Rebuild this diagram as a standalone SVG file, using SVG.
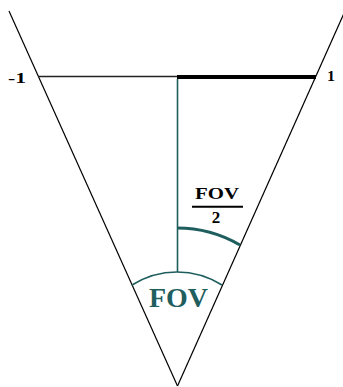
<svg xmlns="http://www.w3.org/2000/svg" width="343" height="387" viewBox="0 0 343 387">
<style>
.edge{stroke:#000;stroke-width:1.2;fill:none}
.teal{stroke:#1f5e5e;fill:none}
.lbl{font-family:"Liberation Serif","Times New Roman",serif;font-weight:bold;fill:#000}
.tlbl{font-family:"Liberation Serif","Times New Roman",serif;font-weight:bold;fill:#1f5e5e}
</style>
<rect width="343" height="387" fill="#fff"/>
<g id="connectors">
<line class="edge" x1="9" y1="11" x2="177.5" y2="386"/>
<line class="edge" x1="345" y1="11" x2="177.5" y2="386"/>
<line x1="38" y1="76.5" x2="178" y2="76.5" stroke="#222" stroke-width="1.3"/>
<line x1="177" y1="77" x2="316" y2="77" stroke="#000" stroke-width="4"/>
<line class="teal" x1="177.5" y1="79" x2="177.5" y2="272" stroke-width="1.6"/>
<path class="teal" d="M132,285 A84,84 0 0 1 222,285" stroke-width="1.5"/>
<path class="teal" d="M177,228 A125,125 0 0 1 240,245" stroke-width="3"/>
<line x1="192" y1="206.7" x2="243" y2="206.7" stroke="#000" stroke-width="2"/>
</g>
<g id="label-minus1"><text class="lbl" x="8" y="83" font-size="15" textLength="18" lengthAdjust="spacingAndGlyphs">-1</text></g>
<g id="label-1"><text class="lbl" x="327" y="81" font-size="15" textLength="8" lengthAdjust="spacingAndGlyphs">1</text></g>
<g id="label-fov-half">
<text class="lbl" x="195" y="199" font-size="17" textLength="44" lengthAdjust="spacingAndGlyphs">FOV</text>
<text class="lbl" x="216" y="222.5" font-size="17" text-anchor="middle">2</text>
</g>
<g id="label-fov"><text class="tlbl" x="149" y="307" font-size="28" textLength="59" lengthAdjust="spacingAndGlyphs">FOV</text></g>
</svg>
